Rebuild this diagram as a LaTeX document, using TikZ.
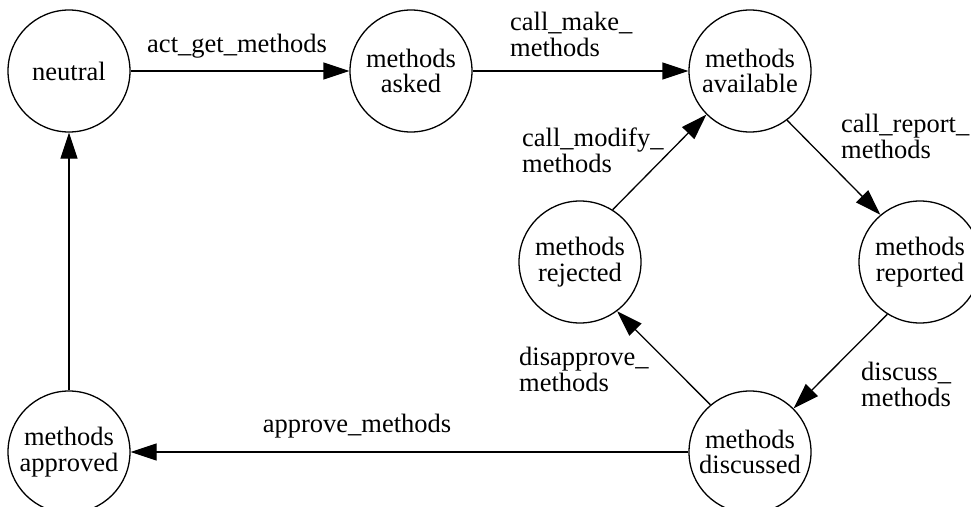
\documentclass[tikz,border=0pt]{standalone}
\usepackage{fontspec}
\setmainfont{Liberation Serif}
\usetikzlibrary{arrows.meta}
\begin{document}
\begin{tikzpicture}[x=1pt,y=-1pt,
  txt/.style={font=\fontsize{26.5}{25.5}\selectfont},
  state/.style={txt,circle,draw,line width=1.3pt,minimum size=122pt,inner sep=0pt,align=center},
  lbl/.style={txt,inner sep=0pt,align=left},
  edge/.style={line width=1.3pt,-{Triangle[length=26pt,width=17pt]}}]
\useasboundingbox (0,0) rectangle (971,506);
\clip (0,0) rectangle (971,506);
\node[state] (neutral) at (69,71) {neutral};
\node[state] (asked) at (411,71) {methods\\asked};
\node[state] (avail) at (750,71) {methods\\available};
\node[state] (reported) at (920,262) {methods\\reported};
\node[state] (rejected) at (580,262) {methods\\rejected};
\node[state] (discussed) at (750,452) {methods\\discussed};
\node[state] (approved) at (69,452) {methods\\approved};

\draw[edge] (neutral) -- (asked);
\draw[edge] (asked) -- (avail);
\draw[edge] (rejected.58) -- (avail.225);
\draw[edge] (avail.-53) -- (reported.130);
\draw[edge] (reported.238) -- (discussed.45);
\draw[edge] (discussed.130) -- (rejected.-53);
\draw[edge] (discussed) -- (approved);
\draw[edge] (approved) -- (neutral);

\node[lbl,anchor=base] (l1) at (237,52) {act\_get\_methods};
\node[lbl,anchor=north west] (l2) at (510,12) {call\_make\_\\methods};
\node[lbl,anchor=north west] (l3) at (522,128) {call\_modify\_\\methods};
\node[lbl,anchor=north west] (l4) at (841,114) {call\_report\_\\methods};
\node[lbl,anchor=north west] (l5) at (519,347) {disapprove\_\\methods};
\node[lbl,anchor=north west] (l6) at (861,362) {discuss\_\\methods};
\node[lbl,anchor=base] (l7) at (357,432) {approve\_methods};
\end{tikzpicture}
\end{document}
